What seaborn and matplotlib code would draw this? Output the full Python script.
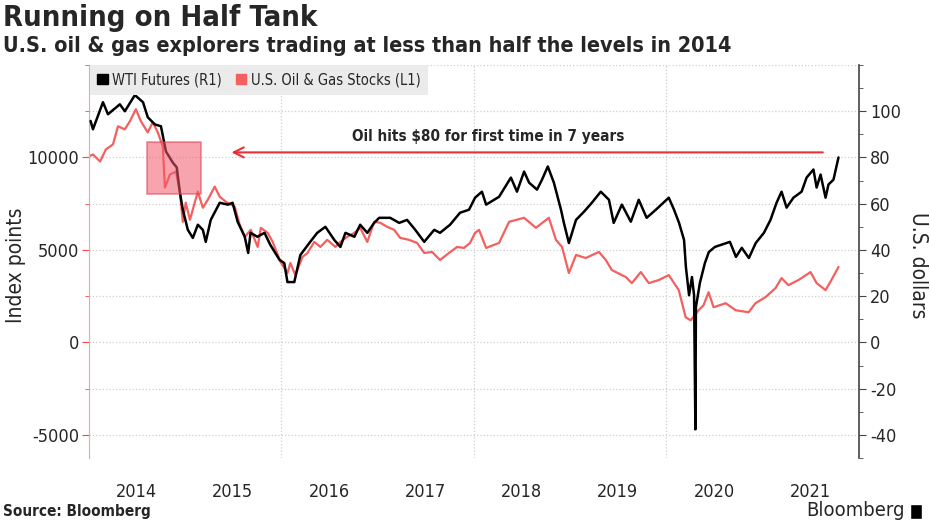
import pandas as pd
import matplotlib.pyplot as plt
import matplotlib.dates as mdates
from matplotlib.patches import Patch, Rectangle
from matplotlib.ticker import MultipleLocator, FixedLocator, NullFormatter
import seaborn as sns

# WTI futures, USD (right axis)
wti_dates = [
    "2014-01-07", "2014-01-16", "2014-02-23", "2014-03-14", "2014-04-28", "2014-05-17",
    "2014-06-24", "2014-07-25", "2014-08-12", "2014-09-08", "2014-10-01", "2014-10-20",
    "2014-11-15", "2014-11-30", "2014-12-12", "2014-12-23", "2015-01-11", "2015-01-30",
    "2015-02-18", "2015-03-09", "2015-03-20", "2015-04-08", "2015-05-12", "2015-06-12",
    "2015-06-30", "2015-07-19", "2015-08-15", "2015-08-28", "2015-09-06", "2015-10-02",
    "2015-10-29", "2015-11-20", "2015-12-25", "2016-01-12", "2016-01-24", "2016-02-19",
    "2016-03-13", "2016-04-16", "2016-05-16", "2016-06-16", "2016-07-20", "2016-08-12",
    "2016-08-31", "2016-10-04", "2016-10-26", "2016-11-22", "2016-12-18", "2017-01-06",
    "2017-02-17", "2017-03-23", "2017-04-22", "2017-05-23", "2017-06-26", "2017-08-03",
    "2017-08-25", "2017-10-02", "2017-11-09", "2017-12-13", "2018-01-05", "2018-01-31",
    "2018-02-16", "2018-04-06", "2018-05-21", "2018-06-13", "2018-07-10", "2018-07-29",
    "2018-08-28", "2018-09-16", "2018-10-08", "2018-10-31", "2018-11-27", "2018-12-08",
    "2018-12-27", "2019-01-23", "2019-02-22", "2019-03-24", "2019-04-27", "2019-05-28",
    "2019-06-15", "2019-07-16", "2019-08-19", "2019-09-18", "2019-10-18", "2019-11-22",
    "2020-01-10", "2020-01-30", "2020-02-18", "2020-03-08", "2020-03-15", "2020-03-27",
    "2020-04-07", "2020-04-15", "2020-04-20", "2020-04-22", "2020-05-07", "2020-05-26",
    "2020-06-10", "2020-07-03", "2020-08-29", "2020-09-21", "2020-10-13", "2020-11-09",
    "2020-12-05", "2021-01-05", "2021-01-30", "2021-02-22", "2021-03-13", "2021-04-01",
    "2021-04-27", "2021-05-28", "2021-06-16", "2021-07-12", "2021-07-24", "2021-08-08",
    "2021-08-27", "2021-09-07", "2021-09-26", "2021-10-15",
]
wti_prices = [
    95.8, 92.2, 103.9, 98.7, 103.0, 100.0,
    107.0, 103.9, 97.4, 94.3, 93.5, 82.6,
    77.8, 75.7, 64.8, 57.4, 48.7, 45.2,
    50.9, 48.7, 43.5, 53.0, 60.4, 59.6,
    60.4, 52.2, 45.7, 38.7, 47.4, 45.7,
    47.4, 42.2, 35.7, 34.3, 26.1, 26.1,
    37.8, 43.0, 47.4, 50.0, 44.3, 41.3,
    47.4, 45.7, 50.9, 47.4, 51.7, 53.9,
    53.9, 51.7, 53.0, 48.7, 43.5, 48.7,
    47.4, 50.9, 56.1, 57.4, 62.6, 65.2,
    59.6, 63.0, 71.3, 65.2, 73.9, 69.1,
    66.1, 70.4, 76.1, 69.1, 57.4, 51.7,
    43.0, 53.0, 56.5, 60.4, 65.2, 61.7,
    51.7, 59.6, 52.2, 61.7, 53.9, 57.4,
    62.6, 57.4, 51.7, 44.3, 32.6, 20.4,
    28.3, 20.4, -37.6, 15.2, 25.7, 34.3,
    39.1, 41.3, 43.5, 37.0, 40.9, 36.5,
    43.0, 47.4, 53.0, 60.4, 65.2, 58.3,
    62.6, 65.2, 71.3, 74.8, 67.0, 72.6,
    62.6, 68.3, 70.4, 80.0,
]

# U.S. oil & gas stocks index, points (left axis)
stock_dates = [
    "2014-01-01", "2014-01-16", "2014-02-12", "2014-03-06", "2014-04-02", "2014-04-21",
    "2014-05-17", "2014-06-05", "2014-06-28", "2014-07-17", "2014-08-12", "2014-08-31",
    "2014-09-19", "2014-10-08", "2014-10-16", "2014-11-04", "2014-11-27", "2014-12-12",
    "2014-12-23", "2015-01-03", "2015-01-19", "2015-02-18", "2015-03-09", "2015-03-28",
    "2015-04-23", "2015-05-12", "2015-06-04", "2015-07-08", "2015-07-27", "2015-08-15",
    "2015-09-07", "2015-10-03", "2015-10-15", "2015-11-10", "2015-11-29", "2015-12-29",
    "2016-01-24", "2016-02-04", "2016-02-23", "2016-03-21", "2016-04-09", "2016-05-05",
    "2016-05-28", "2016-06-23", "2016-07-24", "2016-08-12", "2016-09-07", "2016-10-04",
    "2016-10-26", "2016-11-22", "2016-12-18", "2017-01-10", "2017-02-06", "2017-03-04",
    "2017-03-27", "2017-04-30", "2017-05-30", "2017-06-26", "2017-07-26", "2017-08-25",
    "2017-09-28", "2017-10-29", "2017-11-24", "2017-12-17", "2018-01-05", "2018-01-20",
    "2018-02-16", "2018-04-06", "2018-05-14", "2018-07-10", "2018-08-24", "2018-10-12",
    "2018-11-08", "2018-12-01", "2018-12-27", "2019-01-23", "2019-03-01", "2019-04-20",
    "2019-05-16", "2019-06-08", "2019-07-31", "2019-08-23", "2019-09-26", "2019-10-26",
    "2019-12-03", "2020-01-10", "2020-02-17", "2020-03-14", "2020-04-02", "2020-05-02",
    "2020-05-21", "2020-06-09", "2020-06-28", "2020-08-13", "2020-09-20", "2020-11-08",
    "2020-12-04", "2021-01-11", "2021-02-18", "2021-03-13", "2021-04-08", "2021-05-16",
    "2021-07-01", "2021-07-24", "2021-08-27", "2021-09-18", "2021-10-15",
]
stock_values = [
    10054, 10163, 9783, 10435, 10707, 11685,
    11522, 11957, 12609, 11957, 11359, 11902,
    11359, 10598, 8370, 9076, 9239, 8098,
    6522, 7554, 6630, 8152, 7283, 7717,
    8424, 7880, 7609, 7337, 6359, 5707,
    6087, 5163, 6196, 5924, 5435, 4348,
    3750, 4293, 3641, 4620, 4837, 5435,
    5163, 5543, 5163, 5435, 5707, 5924,
    6196, 5435, 6522, 6467, 6250, 6087,
    5652, 5543, 5380, 4837, 4891, 4456,
    4837, 5163, 5109, 5380, 5924, 6087,
    5109, 5380, 6522, 6739, 6196, 6739,
    5543, 5163, 3750, 4728, 4565, 4891,
    4456, 3913, 3533, 3207, 3804, 3207,
    3370, 3641, 2826, 1359, 1196, 1739,
    2011, 2717, 1902, 2120, 1739, 1630,
    2120, 2446, 2935, 3478, 3098, 3370,
    3804, 3207, 2826, 3370, 4076,
]

left_ticks = [-5000, 0, 5000, 10000]
right_ticks = [-40, -20, 0, 20, 40, 60, 80, 100]

# annotation: box around late-2014 oil at $80, arrow pointing back to it
box_start, box_end = "2014-08-09", "2015-03-01"
box_low, box_high = 64.3, 86.5
arrow_from, arrow_to, arrow_level = "2021-08-27", "2015-06-15", 82.2
note_date, note_level = "2018-02-23", 89.1

wti = pd.DataFrame({"date": pd.to_datetime(wti_dates), "price": wti_prices})
stocks = pd.DataFrame({"date": pd.to_datetime(stock_dates), "value": stock_values})

RED = "#f45f5f"

sns.set_style("white")
plt.rcParams['font.family'] = ['DejaVu Sans']
plt.rcParams['font.stretch'] = 'condensed'
plt.rcParams['axes.unicode_minus'] = False

fig, ax = plt.subplots(figsize=(9.3, 5.23), dpi=100)
fig.subplots_adjust(left=0.0957, right=0.9237, top=0.8757, bottom=0.1243)
ax2 = ax.twinx()

sns.lineplot(data=stocks, x="date", y="value", ax=ax, color=RED, lw=1.6)
sns.lineplot(data=wti, x="date", y="price", ax=ax2, color="black", lw=1.8)

ax.set_xlim(pd.Timestamp("2014-01-01"), pd.Timestamp("2022-01-01"))
ax.set_ylim(-6250, 15000)
ax2.set_ylim(-50, 120)

# y axes
ax.yaxis.set_major_locator(FixedLocator(left_ticks))
ax.yaxis.set_minor_locator(MultipleLocator(2500))
ax2.yaxis.set_major_locator(FixedLocator(right_ticks))
ax2.yaxis.set_minor_locator(MultipleLocator(10))
ax.grid(True, axis="y", which="minor", ls=":", color="#cfcfcf", lw=0.9)
ax.grid(True, axis="y", which="major", ls=":", color="#cfcfcf", lw=0.9)

# x axis: year gridlines every 2 years, labels mid-year
ax.xaxis.set_major_locator(mdates.YearLocator(2))
ax.xaxis.set_major_formatter(NullFormatter())
ax.xaxis.set_minor_locator(mdates.MonthLocator(bymonth=7))
ax.xaxis.set_minor_formatter(mdates.DateFormatter("%Y"))
ax.grid(True, axis="x", which="major", ls=":", color="#cfcfcf", lw=0.9)
ax.tick_params(axis="x", which="both", length=0, labelsize=13, pad=18)

ax.tick_params(axis="y", which="major", direction="out", length=5, color="#f04848",
               labelsize=13, pad=2)
ax.tick_params(axis="y", which="minor", direction="out", length=3, color="#f04848")
ax2.tick_params(axis="y", which="major", direction="out", length=5, color="#444444",
                labelsize=13, pad=3)
ax2.tick_params(axis="y", which="minor", direction="out", length=3, color="#444444")

for s in ["top", "right", "bottom"]:
    ax.spines[s].set_visible(False)
for s in ["top", "left", "bottom"]:
    ax2.spines[s].set_visible(False)
ax.spines["left"].set_color("#f5a3a3")
ax2.spines["right"].set_color("#444444")
ax2.spines["right"].set_linewidth(1.2)

ax.set_xlabel("")
ax.set_ylabel("Index points", fontsize=15)
ax.yaxis.set_label_coords(-0.082, 0.49)
ax2.set_ylabel("U.S. dollars", fontsize=15, rotation=270, va="center")
ax2.yaxis.set_label_coords(1.077, 0.49)

# annotation
x0 = mdates.date2num(pd.Timestamp(box_start))
x1 = mdates.date2num(pd.Timestamp(box_end))
ax2.add_patch(Rectangle((x0, box_low), x1 - x0, box_high - box_low,
                        facecolor="#f25a6e", alpha=0.55, edgecolor="#e33a50", lw=1.2, zorder=5))
ax2.annotate("", xy=(mdates.date2num(pd.Timestamp(arrow_to)), arrow_level),
             xytext=(mdates.date2num(pd.Timestamp(arrow_from)), arrow_level),
             arrowprops=dict(arrowstyle="->", color="#ec2f35", lw=1.5, mutation_scale=18))
ax2.text(mdates.date2num(pd.Timestamp(note_date)), note_level,
         "Oil hits $80 for first time in 7 years", ha="center", va="center",
         fontsize=11, fontweight="bold")

# legend
handles = [Patch(color="black", label="WTI Futures (R1)"),
           Patch(color=RED, label="U.S. Oil & Gas Stocks (L1)")]
leg = ax2.legend(handles=handles, ncol=2, loc="upper left", bbox_to_anchor=(0.0013, 1.0),
                 frameon=True, facecolor="#ebebeb", edgecolor="none", fancybox=False,
                 framealpha=1, fontsize=10.5, handlelength=0.7, handleheight=0.7,
                 handletextpad=0.3, columnspacing=1.0, borderpad=0.5, borderaxespad=0)
leg.set_zorder(10)

# titles and footer
fig.text(0.003, 1 - 4 / 523, "Running on Half Tank", fontsize=21, fontweight="bold", va="top")
fig.text(0.003, 1 - 36 / 523, "U.S. oil & gas explorers trading at less than half the levels in 2014",
         fontsize=15.5, fontweight="bold", va="top")
fig.text(0.003, 1 - 516 / 523, "Source: Bloomberg", fontsize=11, fontweight="bold", va="baseline")
fig.text(905 / 930, 1 - 516 / 523, "Bloomberg", fontsize=14.5, ha="right", va="baseline")
fig.patches.append(Rectangle((910 / 930, 1 - 519 / 523), 12 / 930, 15 / 523,
                             transform=fig.transFigure, facecolor="black", figure=fig))

plt.savefig("out.png", dpi=100)
